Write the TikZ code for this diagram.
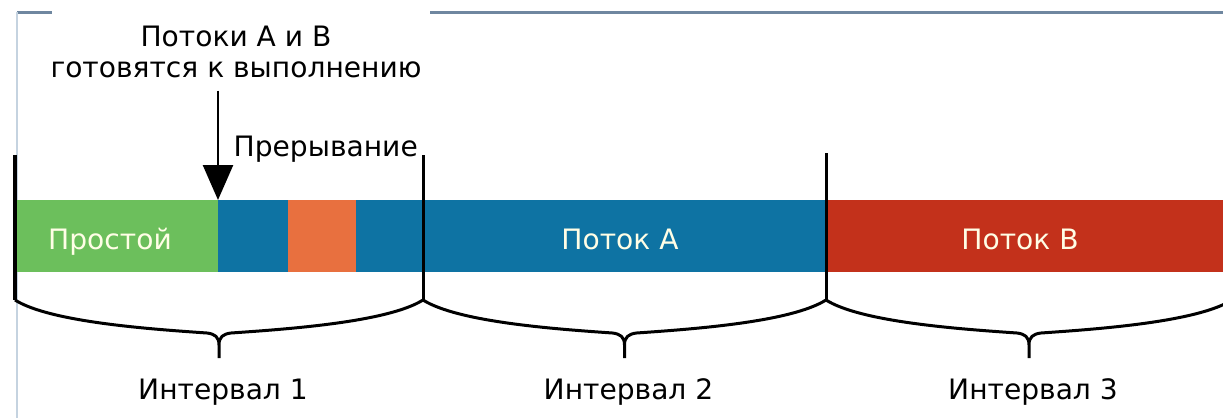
\documentclass[tikz,border=0pt]{standalone}
\usepackage{fontspec}
\setmainfont{DejaVu Sans}
\usetikzlibrary{positioning,arrows.meta}

\definecolor{idlegreen}{HTML}{6CBF5C}
\definecolor{threadA}{HTML}{0E73A3}
\definecolor{isrorange}{HTML}{E8703F}
\definecolor{threadB}{HTML}{C3311B}
\definecolor{framegray}{HTML}{6F87A0}
\definecolor{frameblue}{HTML}{C5D3E0}

\begin{document}
\begin{tikzpicture}[x=0.1mm, y=-0.1mm, font=\fontsize{8}{9}\selectfont,
	seg/.style = {minimum height=7.2mm, inner sep=0, outer sep=0, anchor=west},
	barlabel/.style = {text=white!90!yellow, anchor=base},
	tick/.style = {line width=0.3mm},
	brace/.style = {line width=0.3mm, line join=round}]
	\useasboundingbox (0,0) rectangle (1223,418);
	% window frame
	\draw[framegray, line width=0.3mm] (17,12) -- (52,12) (430,12) -- (1223,12);
	\draw[frameblue, line width=0.2mm] (17,12) -- (17,418);

	% time line
	\node[seg, fill=idlegreen, minimum width=20.3mm] (idle) at (15,236) {};
	\node[seg, fill=threadA, minimum width=7mm, right=0pt of idle] (runA1) {};
	\node[seg, fill=isrorange, minimum width=6.8mm, right=0pt of runA1] (isr) {};
	\node[seg, fill=threadA, minimum width=47mm, right=0pt of isr] (runA2) {};
	\node[seg, fill=threadB, minimum width=39.7mm, right=0pt of runA2] (runB) {};
	\node[barlabel] (idletxt) at (110,249) {Простой};
	\node[barlabel] (atxt) at (620,249) {Поток А};
	\node[barlabel] (btxt) at (1020,249) {Поток В};

	% events
	\node[align=center] (ready) at (236,52) {Потоки А и В\\готовятся к выполнению};
	\draw[line width=0.25mm, -{Triangle[width=3mm,length=3.5mm]}]
		(idle.north east |- ready.south) -- (idle.north east);
	\node[anchor=south west, inner sep=0] (irq) at (233,163) {Прерывание};

	% interval ticks
	\coordinate (t0) at (15,155);
	\coordinate (t1) at (423,155);
	\coordinate (t2) at (826,153);
	\draw[tick, line width=0.45mm] (t0) -- ++(0,145);
	\draw[tick] (t1) -- ++(0,145);
	\draw[tick] (t2) -- ++(0,147);

	% braces
	\foreach \l/\r/\n in {15/423/1, 423/826/2, 826/1232/3} {
		\pgfmathsetmacro\m{(\l+\r)/2}
		\draw[brace] (\l,300) .. controls (\l+35,322) and (\m-70,329) .. (\m-12,333)
			.. controls (\m-4,334) and (\m,337) .. (\m,345) -- (\m,358)
			(\m,345) .. controls (\m,337) and (\m+4,334) .. (\m+12,333)
			.. controls (\m+70,329) and (\r-35,322) .. (\r,300);
		\node (int\n) at (\m+4,392) {Интервал \n};
	}
\end{tikzpicture}
\end{document}
